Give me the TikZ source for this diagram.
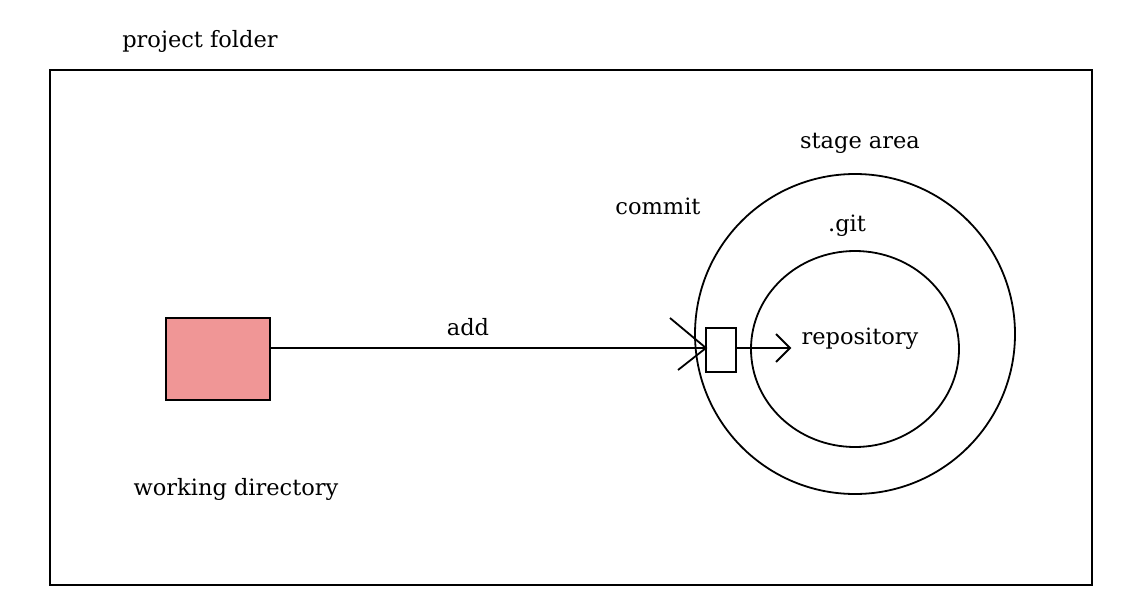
\documentclass[tikz,border=0pt]{standalone}
\usepackage{fontspec}
\setmainfont{DejaVu Serif}
\usetikzlibrary{shapes.geometric,calc}
\begin{document}
\begin{tikzpicture}[x=1pt,y=-1pt,line width=1.8pt,
  lbl/.style={inner sep=0pt,font=\fontsize{22.5}{26}\selectfont}]
\useasboundingbox (0,0) rectangle (1122,602);
\node[draw,minimum width=1042pt,minimum height=515pt,anchor=north west,inner sep=0pt] (frame) at (49,69) {};
\node[draw,fill={rgb,255:red,240;green,150;blue,150},minimum width=104pt,minimum height=82pt,anchor=north west,inner sep=0pt] (wd) at (165,317) {};
\node[draw,circle,minimum size=320pt,inner sep=0pt] (stage) at (855,334) {};
\node[draw,ellipse,minimum width=208pt,minimum height=196pt,inner sep=0pt] (git) at (855,349) {};
\node[draw,minimum width=30pt,minimum height=44pt,anchor=north west,inner sep=0pt] (idx) at (705,327) {};
\coordinate (addtip) at (706,348);
\coordinate (repotip) at (790,348);
\draw (wd.east |- addtip) -- (addtip);
\draw ($(addtip)+(-36,-30)$) -- (addtip) -- ($(addtip)+(-28,22)$);
\draw (idx.east |- repotip) -- (repotip);
\draw ($(repotip)+(-14,-14)$) -- (repotip) -- ($(repotip)+(-14,14)$);
\node[lbl] (t1) at (200,41) {project folder};
\node[lbl] (t2) at (860,143) {stage area};
\node[lbl] (t3) at (658,206) {commit};
\node[lbl] (t4) at (847,226) {.git};
\node[lbl] (t5) at (468,327) {add};
\node[lbl] (t6) at (860,339) {repository};
\node[lbl] (t7) at (236,489) {working directory};
\end{tikzpicture}
\end{document}
